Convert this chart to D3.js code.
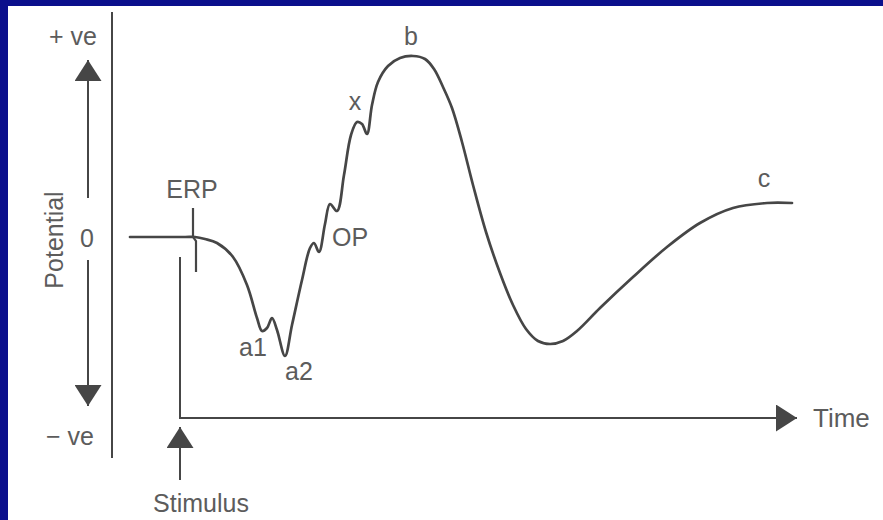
<!DOCTYPE html>
<html>
<head>
<meta charset="utf-8">
<script src="https://cdn.jsdelivr.net/npm/d3@7"></script>
<style>
  html, body { margin: 0; padding: 0; background: #ffffff; overflow: hidden; }
  svg { display: block; }
</style>
</head>
<body>
<svg id="chart" width="883" height="520"></svg>
<script>
// ERG waveform after a flash stimulus (time and potential in arbitrary units)
const timePts = [-10, 1, 3, 5, 7.4, 10.6, 13.4, 15.4, 16.4, 17.4, 18.4, 19.4, 21, 22.4, 24.4, 26, 26.8, 27.8, 29, 30, 31.4, 32.8, 34.2, 35.4, 36.4, 37.4, 38.4, 39.6, 41.6, 44, 46.6, 49, 50.8, 52.6, 54.4, 56.4, 58.6, 61.2, 64, 66.6, 69.2, 71.6, 74, 76.6, 79.4, 84, 90.6, 97.4, 104, 110.6, 117.4, 122.4];
const potentialPts = [0, 0, 0, -0.2, -0.6, -2, -4.8, -8.1, -9.4, -9.1, -8.1, -9.3, -11.9, -8.8, -4.3, -1.1, -0.6, -1.5, 1.3, 3.3, 2.6, 6.2, 10.2, 11.5, 11.3, 10.3, 13.2, 15.5, 17.1, 17.9, 18.1, 17.8, 16.8, 15, 12.9, 9.5, 5.2, 0.5, -3.6, -6.8, -9.2, -10.4, -10.7, -10.4, -9.4, -7.1, -4, -1, 1.4, 2.9, 3.4, 3.4];

// Named components: where each one sits on the waveform
const peakNames = ["a1", "a2", "OP", "x", "b", "c"];
const peakTime = [16.4, 21, 26.8, 35.4, 46.6, 116.8];
const peakPotential = [-9.4, -11.9, -0.6, 11.5, 18.1, 3.4];
// label offsets from each component, in pixels
const peakLabelDx = [-9, 14, 36, -2, -2, 0];
const peakLabelDy = [25, 24, 3, -12, -11, -16];

const axisLabels = ["+ ve", "0", "− ve"];
const axisLabelPotential = [20, 0, -20];

const W = 883, H = 520;
const svg = d3.select("#chart");

// blue frame along the top and left edges
svg.append("rect").attr("x", 0).attr("y", 0).attr("width", W).attr("height", 6).attr("fill", "#0b0f8c");
svg.append("rect").attr("x", 0).attr("y", 0).attr("width", 8).attr("height", H).attr("fill", "#0b0f8c");

const x = d3.scaleLinear().domain([0, 100]).range([180, 680]);
const y = d3.scaleLinear().domain([-20, 20]).range([437, 37]);

const ink = "#464646";
const textInk = "#5c5c5c";
const font = "'Liberation Sans', Arial, Helvetica, sans-serif";
const fs = 25;

// arrowhead marker
svg.append("defs").append("marker").attr("id", "head").attr("viewBox", "0 0 21 27")
  .attr("refX", 21).attr("refY", 13.5).attr("markerWidth", 21).attr("markerHeight", 27)
  .attr("markerUnits", "userSpaceOnUse").attr("orient", "auto")
  .append("path").attr("d", "M0,0 L21,13.5 L0,27 Z").attr("fill", ink);

const g = svg.append("g");

// vertical potential axis line
g.append("line")
  .attr("x1", x(-13.6)).attr("x2", x(-13.6))
  .attr("y1", 12).attr("y2", 458)
  .attr("stroke", ink).attr("stroke-width", 2);

// polarity arrows (+ve up, -ve down), broken around the zero mark
g.append("line")
  .attr("x1", x(-18.4)).attr("x2", x(-18.4))
  .attr("y1", y(3.9)).attr("y2", y(17.7))
  .attr("stroke", ink).attr("stroke-width", 2).attr("marker-end", "url(#head)");
g.append("line")
  .attr("x1", x(-18.4)).attr("x2", x(-18.4))
  .attr("y1", y(-2.3)).attr("y2", y(-16.9))
  .attr("stroke", ink).attr("stroke-width", 2).attr("marker-end", "url(#head)");

// time axis starting at the stimulus
g.append("line")
  .attr("x1", x(0)).attr("x2", x(0))
  .attr("y1", y(-2)).attr("y2", y(-18.1))
  .attr("stroke", ink).attr("stroke-width", 2);
g.append("line")
  .attr("x1", x(0) - 1).attr("x2", x(123.4))
  .attr("y1", y(-18.1)).attr("y2", y(-18.1))
  .attr("stroke", ink).attr("stroke-width", 2).attr("marker-end", "url(#head)");

// stimulus arrow
g.append("line")
  .attr("x1", x(0)).attr("x2", x(0))
  .attr("y1", y(-24.3)).attr("y2", y(-19))
  .attr("stroke", ink).attr("stroke-width", 2).attr("marker-end", "url(#head)");

// ERP tick at stimulus onset
g.append("path")
  .attr("d", `M${x(2.6)},${y(2.9)} L${x(2.6)},${y(0)} L${x(3.2)},${y(-0.4)} L${x(3.2)},${y(-3.5)}`)
  .attr("fill", "none").attr("stroke", ink).attr("stroke-width", 2.2);

// waveform
const pts = timePts.map((t, i) => [t, potentialPts[i]]);
const line = d3.line().x(d => x(d[0])).y(d => y(d[1])).curve(d3.curveCatmullRom.alpha(0.5));
g.append("path").datum(pts).attr("d", line)
  .attr("fill", "none").attr("stroke", ink).attr("stroke-width", 2.7)
  .attr("stroke-linejoin", "round").attr("stroke-linecap", "round");

// text labels
const txt = (s, px, py, anchor = "middle", size = fs) =>
  g.append("text").attr("x", px).attr("y", py).attr("text-anchor", anchor)
    .attr("font-family", font).attr("font-size", size).attr("fill", textInk).text(s);

peakNames.forEach((n, i) =>
  txt(n, x(peakTime[i]) + peakLabelDx[i], y(peakPotential[i]) + peakLabelDy[i]));

const axisLabelX = [73, 87, 70];
axisLabels.forEach((s, i) => txt(s, axisLabelX[i], y(axisLabelPotential[i]) + (i === 1 ? 10 : 8)));

txt("ERP", x(2.4), y(3.9));
txt("Time", x(126.6), y(-18.1) + 9, "start", 26);
txt("Stimulus", x(4.2), y(-27.5), "middle", 25);

g.append("text")
  .attr("transform", `translate(${63},${y(-0.3)}) rotate(-90)`)
  .attr("text-anchor", "middle").attr("font-family", font).attr("font-size", fs)
  .attr("fill", textInk).text("Potential");
</script>
</body>
</html>
